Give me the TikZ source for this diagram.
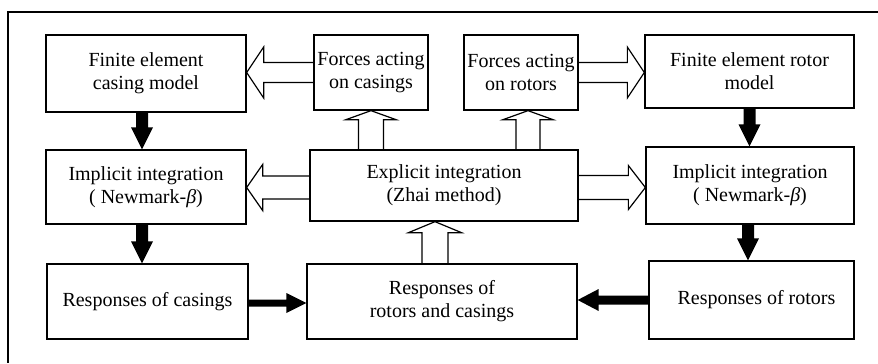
\documentclass[tikz,border=0pt]{standalone}
\usepackage{fontspec}
\setmainfont{Liberation Serif}
\usetikzlibrary{calc}
% #1 style, #2 start, #3 tip, #4 shaft half width, #5 head half width, #6 head length
\newcommand{\BlockArrow}[6]{%
  \path (#3) coordinate (tt) ($(#3)!#6!(#2)$) coordinate (bb);
  \path[#1] ($(#2)!#4!90:(tt)$) -- ($(bb)!#4!90:(tt)$) -- ($(bb)!#5!90:(tt)$) -- (tt)
     -- ($(bb)!#5!-90:(tt)$) -- ($(bb)!#4!-90:(tt)$) -- ($(#2)!#4!-90:(tt)$);
}
\tikzset{
  box/.style={draw, line width=1.3bp, align=center, inner sep=0pt,
    font=\fontsize{20bp}{23bp}\selectfont},
  hollow/.style={draw, line width=1.2bp, line join=miter},
  solid arrow/.style={fill=black},
}
\begin{document}
\begin{tikzpicture}[x=1bp,y=-1bp]
\useasboundingbox (0,0) rectangle (878,363);
\draw[line width=1.5bp] (878,12) -- (8,12) -- (8,363);

\node[box, minimum width=200bp, minimum height=77bp] (fec) at (146,73.5) {Finite element\\casing model};
\node[box, minimum width=114bp, minimum height=75bp] (fc) at (371,72.5) {Forces acting\\on casings};
\node[box, minimum width=114bp, minimum height=75bp] (fr) at (521,72.5) {Forces acting\\on rotors};
\node[box, minimum width=209bp, minimum height=73bp] (fer) at (749.5,71.5) {Finite element rotor\\model};

\node[box, minimum width=200bp, minimum height=74bp] (il) at (146,187) {Implicit integration\\( Newmark-\textit{β})};
\node[box, minimum width=268bp, minimum height=71bp] (ex) at (444,185.5) {Explicit integration\\(Zhai method)};
\node[box, minimum width=208bp, minimum height=77bp] (ir) at (750,185.5) {Implicit integration\\( Newmark-\textit{β})};

\node[box, minimum width=201bp, minimum height=75bp] (rc) at (147.5,301.5) {Responses of casings};
\node[box, minimum width=270bp, minimum height=75bp] (rrc) at (442,301.5) {Responses of\\rotors and casings};
\node[box, minimum width=205bp, minimum height=78bp] (rr) at (751.5,300) {\hspace*{10bp}Responses of rotors};

% hollow arrows
\BlockArrow{hollow}{fc.west}{fc.west -| fec.east}{10bp}{25.5bp}{17bp}
\BlockArrow{hollow}{fr.east}{fr.east -| fer.west}{10bp}{25.5bp}{17bp}
\BlockArrow{hollow}{fc.south |- ex.north}{fc.south}{12.5bp}{25bp}{9bp}
\coordinate (frs) at ($(fr.south)+(7,0)$);
\BlockArrow{hollow}{frs |- ex.north}{frs}{12bp}{25bp}{9bp}
\coordinate (exl) at ($(ex.west)+(0,2)$);
\BlockArrow{hollow}{exl}{exl -| il.east}{11.5bp}{23bp}{16bp}
\coordinate (exr) at ($(ex.east)+(0,2)$);
\BlockArrow{hollow}{exr}{exr -| ir.west}{12bp}{22bp}{17bp}
\coordinate (rrcn) at ($(rrc.north)+(-7,0)$);
\BlockArrow{hollow}{rrcn}{rrcn |- ex.south}{13bp}{26.5bp}{11bp}

% solid arrows
\coordinate (fecs) at ($(fec.south)+(-4,0)$);
\BlockArrow{solid arrow}{fecs}{fecs |- il.north}{6bp}{11bp}{22bp}
\coordinate (ils) at ($(il.south)+(-4,0)$);
\BlockArrow{solid arrow}{ils}{ils |- rc.north}{6bp}{11bp}{22bp}
\BlockArrow{solid arrow}{fer.south}{fer.south |- ir.north}{6bp}{11bp}{22bp}
\coordinate (irs) at ($(ir.south)+(-2,0)$);
\BlockArrow{solid arrow}{irs}{irs |- rr.north}{6bp}{11bp}{22bp}
\coordinate (rce) at ($(rc.east)+(0,1.5)$);
\BlockArrow{solid arrow}{rce}{rce -| rrc.west}{3.5bp}{10bp}{20bp}
\BlockArrow{solid arrow}{rr.west}{rr.west -| rrc.east}{4.5bp}{11bp}{21bp}
\end{tikzpicture}
\end{document}
